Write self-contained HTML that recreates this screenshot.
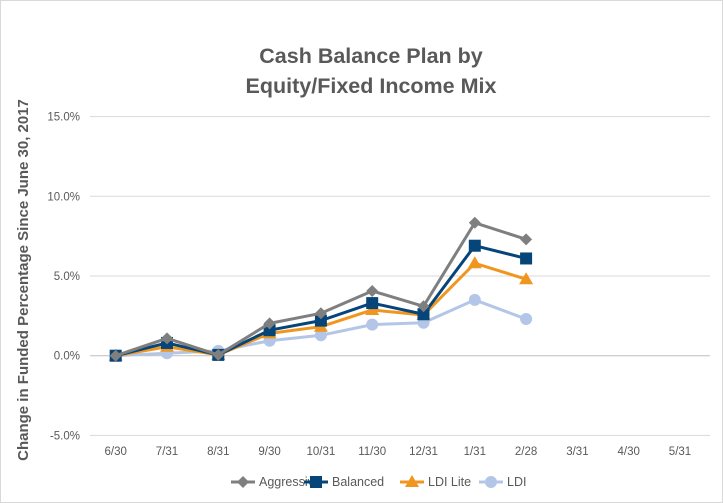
<!DOCTYPE html>
<html><head><meta charset="utf-8"><style>
html,body{margin:0;padding:0;background:#fff;}
svg{display:block;font-family:"Liberation Sans",sans-serif;}
</style></head><body>
<svg id="chart" width="723" height="503">
<rect x="0.5" y="0.5" width="722" height="502" fill="#fff" stroke="#d9d9d9"/>
<text x="371" y="63" text-anchor="middle" font-size="21.5" font-weight="bold" fill="#595959">Cash Balance Plan by</text>
<text x="371" y="93" text-anchor="middle" font-size="21.5" font-weight="bold" fill="#595959">Equity/Fixed Income Mix</text>
<text transform="translate(28,280) rotate(-90)" text-anchor="middle" font-size="15" font-weight="bold" fill="#595959">Change in Funded Percentage Since June 30, 2017</text>
<g id="grid"></g><g id="series"></g><g id="legend"></g>
</svg>
<script>
const categories=["6/30","7/31","8/31","9/30","10/31","11/30","12/31","1/31","2/28","3/31","4/30","5/31"];
const yTicks=[-5,0,5,10,15];
const aggressive=[0,1.09,0.05,2.03,2.66,4.06,3.1,8.34,7.3];
const balanced=[0,0.8,0.05,1.6,2.2,3.3,2.6,6.9,6.1];
const ldiLite=[0,0.56,0.05,1.4,1.82,2.87,2.55,5.8,4.8];
const ldi=[0,0.15,0.3,0.94,1.28,1.95,2.07,3.5,2.3];
const NS="http://www.w3.org/2000/svg";
const x0=115.7,dx=51.3,plotL=90,plotR=710;
const xS=i=>x0+i*dx;
const yS=v=>355.7-v*15.94;
function mk(tag,attrs,parent){const e=document.createElementNS(NS,tag);for(const k in attrs)e.setAttribute(k,attrs[k]);parent.appendChild(e);return e;}
const grid=document.getElementById('grid');
yTicks.forEach(t=>{
 const l=mk('line',{x1:plotL,x2:plotR,y1:yS(t),y2:yS(t),stroke:t===0?'#bfbfbf':'#d9d9d9','stroke-width':1},grid);
 
 
 const tx=mk('text',{x:80,y:yS(t)+4,'text-anchor':'end','font-size':11.5,fill:'#595959'},grid);
 tx.textContent=t.toFixed(1)+'%';
 
 
});
categories.forEach((c,i)=>{
 const tx=mk('text',{x:xS(i),y:455,'text-anchor':'middle','font-size':11.5,fill:'#595959'},grid);
 tx.textContent=c;
 
 
});
function marker(g,type,x,y,color){
 let e;
 if(type==='diamond')e=mk('polygon',{points:`${x},${y-6} ${x+6},${y} ${x},${y+6} ${x-6},${y}`,fill:color},g);
 else if(type==='square')e=mk('rect',{x:x-6,y:y-6,width:12,height:12,fill:color},g);
 else if(type==='triangle')e=mk('polygon',{points:`${x},${y-7} ${x+7},${y+5} ${x-7},${y+5}`,fill:color},g);
 else e=mk('circle',{cx:x,cy:y,r:6,fill:color},g);
 
 
}
const seriesList=[
 {name:'Aggressive',data:aggressive,color:'#7f7f7f',m:'diamond'},
 {name:'Balanced',data:balanced,color:'#064579',m:'square'},
 {name:'LDI Lite',data:ldiLite,color:'#f0961e',m:'triangle'},
 {name:'LDI',data:ldi,color:'#b4c6e7',m:'circle'}];
const sg=document.getElementById('series');
seriesList.slice().reverse().forEach(s=>{
 const g=mk('g',{},sg);
 
 
 const pl=mk('polyline',{points:s.data.map((v,i)=>xS(i)+','+yS(v)).join(' '),fill:'none',stroke:s.color,'stroke-width':3,'stroke-linejoin':'round'},g);
 
 
 s.data.forEach((v,i)=>marker(g,s.m,xS(i),yS(v),s.color));
});
const lg=document.getElementById('legend');
const lx=[259,332,428,507];
seriesList.forEach((s,i)=>{
 const g=mk('g',{},lg);
 
 
 const ln=mk('line',{x1:lx[i]-28,x2:lx[i]-4,y1:482,y2:482,stroke:s.color,'stroke-width':3},g);
 
 
 marker(g,s.m,lx[i]-16,482,s.color);
 const t=mk('text',{x:lx[i],y:486,'font-size':12.5,fill:'#595959'},g);
 t.textContent=s.name;
 
 
});
</script>
</body></html>
